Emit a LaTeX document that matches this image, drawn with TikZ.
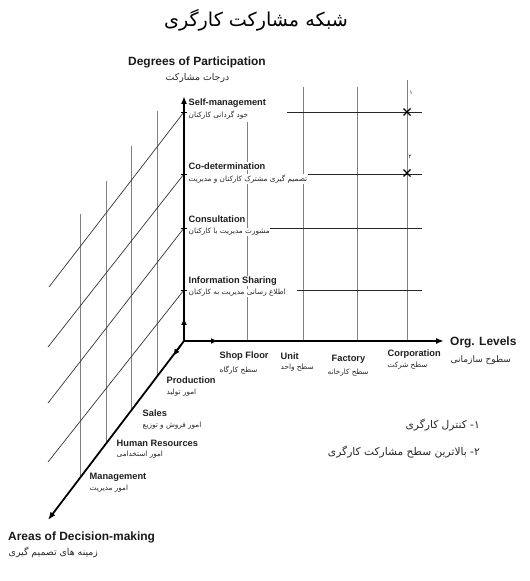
\documentclass[tikz,border=0pt]{standalone}
\usepackage{fontspec}
\setmainfont{Liberation Sans}
\newfontfamily\fa[Script=Arabic]{DejaVu Sans}
\TeXXeTstate=1
\usetikzlibrary{arrows.meta}
\begin{document}
\begin{tikzpicture}[x=1bp,y=-1bp,
  axisline/.style={line width=1.8pt,-{Latex[length=8pt,width=6pt]}},
  midarrow/.style={line width=1.8pt,-{Latex[length=7pt,width=6pt]}},
  tickline/.style={line width=1pt},
  gridv/.style={black!50,line width=0.8pt},
  gridh/.style={black!85,line width=0.8pt},
  diagline/.style={black!80,line width=0.7pt},
  xmark/.style={line width=1.3pt},
  en/.style={font=\fontsize{9.3}{10}\selectfont\bfseries,anchor=west,inner sep=0.5pt,text=black!88},
  fa/.style={font=\fa\fontsize{7.3}{8}\selectfont,anchor=west,inner sep=0.5pt,text=black!85},
  fabig/.style={font=\fa\fontsize{9.4}{10}\selectfont,anchor=west,inner sep=0.5pt,text=black!85},
  head/.style={font=\fontsize{12}{13}\selectfont\bfseries,anchor=west,inner sep=0pt,text=black!90},
  legend/.style={font=\fa\fontsize{10.7}{12}\selectfont,anchor=east,inner sep=0pt,text=black!85},
  wbg/.style={fill=white}]
\useasboundingbox (0,0) rectangle (530,581);

% key coordinates
\coordinate (O) at (184,341);
\coordinate (V) at (184,96);
\coordinate (H) at (444,341);
\coordinate (D) at (48,520);
\coordinate (d1) at (184,112);
\coordinate (d2) at (184,174);
\coordinate (d3) at (184,228);
\coordinate (d4) at (184,290);
\coordinate (a1) at (157,377);
\coordinate (a2) at (131,411);
\coordinate (a3) at (106,443);
\coordinate (a4) at (80,477);
\coordinate (l1) at (247,341);
\coordinate (l2) at (303,341);
\coordinate (l3) at (357,341);
\coordinate (l4) at (407,341);

% left plane: verticals
\coordinate (t1) at (157,111);
\coordinate (t2) at (131,146);
\coordinate (t3) at (106,181);
\coordinate (t4) at (80,214);
\draw[gridv] (a1) -- (t1);
\draw[gridv] (a2) -- (t2);
\draw[gridv] (a3) -- (t3);
\draw[gridv] (a4) -- (t4);
% left plane: diagonals
\coordinate (e1) at (49,287);
\coordinate (e2) at (48,347);
\coordinate (e3) at (48,403);
\coordinate (e4) at (48,462);
\draw[diagline] (d1) -- (e1);
\draw[diagline] (d2) -- (e2);
\draw[diagline] (d3) -- (e3);
\draw[diagline] (d4) -- (e4);

% right plane: verticals
\coordinate (u1) at (247,122);
\coordinate (u2) at (303,87);
\coordinate (u3) at (357,87);
\coordinate (u4) at (407,80);
\draw[gridv] (l1) -- (u1);
\draw[gridv] (l2) -- (u2);
\draw[gridv] (l3) -- (u3);
\draw[gridv] (l4) -- (u4);
% right plane: horizontals
\coordinate (h1s) at (287,112); \coordinate (h1e) at (422,112);
\coordinate (h2s) at (293,174); \coordinate (h2e) at (422,174);
\coordinate (h3s) at (268,228); \coordinate (h3e) at (422,228);
\coordinate (h4s) at (297,290); \coordinate (h4e) at (422,290);
\draw[gridh] (h1s) -- (h1e);
\draw[gridh] (h2s) -- (h2e);
\draw[gridh] (h3s) -- (h3e);
\draw[gridh] (h4s) -- (h4e);

% axes
\draw[axisline] (O) -- (V);
\draw[axisline] (O) -- (H);
\draw[axisline] (O) -- (D);
\coordinate (mv1) at (184,332); \coordinate (mv2) at (184,318);
\coordinate (mh1) at (200,341); \coordinate (mh2) at (218,341);
\coordinate (md1) at (181,345); \coordinate (md2) at (173,356);
\draw[midarrow] (mv1) -- (mv2);
\draw[midarrow] (mh1) -- (mh2);
\draw[midarrow] (md1) -- (md2);
% ticks on vertical axis
\foreach \p in {d1,d2,d3,d4}{
  \draw[tickline] ([xshift=-3.5]\p) -- ([xshift=3.5]\p);
}

% X marks
\coordinate (x1) at (407,112);
\coordinate (x2) at (407,173);
\foreach \p in {x1,x2}{
  \draw[xmark] ([shift={(-3.5,-3.5)}]\p) -- ([shift={(3.5,3.5)}]\p);
  \draw[xmark] ([shift={(-3.5,3.5)}]\p) -- ([shift={(3.5,-3.5)}]\p);
}
\node[font=\fa\fontsize{5.5}{6}\selectfont,inner sep=0pt] (n1) at (411,93) {۱};
\node[font=\fa\fontsize{5.5}{6}\selectfont,inner sep=0pt] (n2) at (410,157) {۲};

% title
\node[font=\fa\fontsize{19.2}{21}\selectfont,inner sep=0pt] (title) at (256,20) {\beginR شبکه مشارکت کارگری\endR};

% vertical axis heading
\node[head] (degEn) at (128,62) {Degrees of Participation};
\node[fabig] (degFa) at (165,78) {\beginR درجات مشارکت\endR};

% degree labels
\node[en,wbg] (smEn) at (188,103) {Self-management};
\node[fa,wbg] (smFa) at (188,115) {\beginR خود گردانی کارکنان\endR};
\node[en,wbg] (cdEn) at (188,166) {Co-determination};
\node[fa,wbg] (cdFa) at (188,179) {\beginR تصمیم گیری مشترک کارکنان و مدیریت\endR};
\node[en,wbg] (csEn) at (188,219) {Consultation};
\node[fa,wbg] (csFa) at (188,232) {\beginR مشورت مدیریت با کارکنان\endR};
\node[en,wbg] (isEn) at (188,281) {Information Sharing};
\node[fa,wbg] (isFa) at (188,293) {\beginR اطلاع رسانی مدیریت به کارکنان\endR};

% org levels
\node[en] (sfEn) at (219,356) {Shop Floor};
\node[fa] (sfFa) at (219,370) {\beginR سطح کارگاه\endR};
\node[en] (unEn) at (280,356) {Unit};
\node[fa] (unFa) at (280,368) {\beginR سطح واحد\endR};
\node[en] (fcEn) at (331,359) {Factory};
\node[fa] (fcFa) at (327,373) {\beginR سطح کارخانه\endR};
\node[en] (coEn) at (387,354) {Corporation};
\node[fa] (coFa) at (387,366) {\beginR سطح شرکت\endR};
\node[head] (olEn) at (450,342) {Org. Levels};
\node[fabig,font=\fa\fontsize{9}{10}\selectfont] (olFa) at (450,360) {\beginR سطوح سازمانی\endR};

% areas
\node[en] (prEn) at (166,380) {Production};
\node[fa] (prFa) at (166,393) {\beginR امور تولید\endR};
\node[en] (saEn) at (142,413) {Sales};
\node[fa] (saFa) at (142,426) {\beginR امور فروش و توزیع\endR};
\node[en] (hrEn) at (116,443) {Human Resources};
\node[fa] (hrFa) at (116,455) {\beginR امور استخدامی\endR};
\node[en] (mgEn) at (89,477) {Management};
\node[fa] (mgFa) at (89,489) {\beginR امور مدیریت\endR};
\node[head] (adEn) at (8,537) {Areas of Decision-making};
\node[fabig] (adFa) at (8,552) {\beginR زمینه های تصمیم گیری\endR};

% legend
\node[legend] (lg1) at (480,425) {\beginR ۱- کنترل کارگری\endR};
\node[legend] (lg2) at (480,452) {\beginR ۲- بالاترین سطح مشارکت کارگری\endR};
\end{tikzpicture}
\end{document}
